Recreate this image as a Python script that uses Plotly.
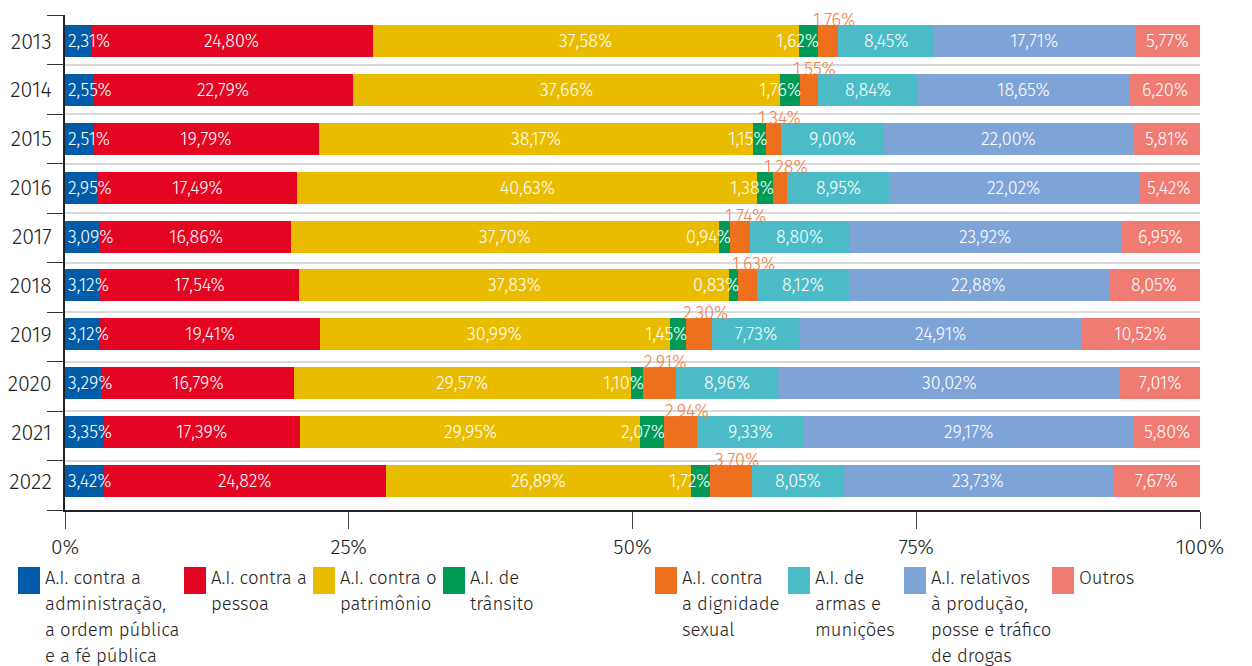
import numpy as np
import plotly.graph_objects as go

# ---------------- data ----------------
years = ["2013", "2014", "2015", "2016", "2017", "2018", "2019", "2020", "2021", "2022"]

series_names = [
    "A.I. contra a\nadministração,\na ordem pública\ne a fé pública",
    "A.I. contra a\npessoa",
    "A.I. contra o\npatrimônio",
    "A.I. de\ntrânsito",
    "A.I. contra\na dignidade\nsexual",
    "A.I. de\narmas e\nmunições",
    "A.I. relativos\nà produção,\nposse e tráfico\nde drogas",
    "Outros",
]

admin = [2.31, 2.55, 2.51, 2.95, 3.09, 3.12, 3.12, 3.29, 3.35, 3.42]
pessoa = [24.80, 22.79, 19.79, 17.49, 16.86, 17.54, 19.41, 16.79, 17.39, 24.82]
patrimonio = [37.58, 37.66, 38.17, 40.63, 37.70, 37.83, 30.99, 29.57, 29.95, 26.89]
transito = [1.62, 1.76, 1.15, 1.38, 0.94, 0.83, 1.45, 1.10, 2.07, 1.72]
dignidade = [1.76, 1.55, 1.34, 1.28, 1.74, 1.63, 2.30, 2.91, 2.94, 3.70]
armas = [8.45, 8.84, 9.00, 8.95, 8.80, 8.12, 7.73, 8.96, 9.33, 8.05]
drogas = [17.71, 18.65, 22.00, 22.02, 23.92, 22.88, 24.91, 30.02, 29.17, 23.73]
outros = [5.77, 6.20, 5.81, 5.42, 6.95, 8.05, 10.52, 7.01, 5.80, 7.67]

x_tickvals = [0, 25, 50, 75, 100]
x_ticktext = ["0%", "25%", "50%", "75%", "100%"]

# ---------------- styles ----------------
colors = ["#005CA8", "#E30521", "#E9BC00", "#009A56", "#EE6F1E", "#4BBCC7", "#7EA3D6", "#F07B73"]
orange_text = "#F07E3E"
FONT = "Fira Sans, Roboto, sans-serif"
W, H = 1252, 666
ML, MR, MT, MB = 65, 52, 15, 156
PLOT_BOTTOM = H - MB

values = [admin, pessoa, patrimonio, transito, dignidade, armas, drogas, outros]
V = np.array(values, dtype=float)
norm = V / V.sum(axis=0) * 100.0
ends = np.cumsum(norm, axis=0)
starts = ends - norm
ypos = list(range(len(years)))


def fmt(v):
    return f"{v:.2f}".replace(".", ",") + "%"


fig = go.Figure()

for k, vals in enumerate(values):
    fig.add_trace(go.Bar(
        y=ypos, x=vals, orientation="h", name=series_names[k].replace("\n", " "),
        marker=dict(color=colors[k], line=dict(width=0)),
        width=0.654, hoverinfo="skip", showlegend=False,
    ))

# invisible trace to hold the boundary grid axis
fig.add_trace(go.Scatter(x=[0], y=[0], yaxis="y2", mode="markers",
                         marker=dict(opacity=0), hoverinfo="skip", showlegend=False))

# bar labels
for k, vals in enumerate(values):
    for i, v in enumerate(vals):
        color = "white"
        yshift = 0
        if k == 0:
            x, xanchor, xshift = starts[k, i], "left", 1
        elif k == 3:
            x, xanchor, xshift = ends[k, i], "right", 3
        elif k == 4:
            x, xanchor, xshift = (starts[k, i] + ends[k, i]) / 2, "center", 6
            yshift = 21
            color = orange_text
        else:
            x, xanchor, xshift = (starts[k, i] + ends[k, i]) / 2, "center", 0
        fig.add_annotation(
            x=x, y=i, xref="x", yref="y", text=fmt(v), showarrow=False,
            xanchor=xanchor, yanchor="middle", xshift=xshift, yshift=yshift,
            font=dict(family=FONT, size=18, color=color, weight=300),
        )

# custom legend
legend_sq_x = [18, 184, 313, 443, 655, 788, 904, 1052]
SQ_W, SQ_TOP, SQ_BOT = 22, 567, 594
LINE0, LINE_STEP = 578, 26
for k, name in enumerate(series_names):
    sx = legend_sq_x[k]
    fig.add_shape(
        type="rect", xref="paper", yref="paper",
        xsizemode="pixel", ysizemode="pixel", xanchor=0, yanchor=0,
        x0=sx - ML, x1=sx - ML + SQ_W,
        y0=PLOT_BOTTOM - SQ_TOP, y1=PLOT_BOTTOM - SQ_BOT,
        fillcolor=colors[k], line=dict(width=0),
    )
    for j, line in enumerate(name.split("\n")):
        fig.add_annotation(
            xref="paper", yref="paper", x=0, y=0,
            xshift=sx + SQ_W + 3 - ML, yshift=-(LINE0 + j * LINE_STEP - PLOT_BOTTOM),
            xanchor="left", yanchor="middle", text=line, showarrow=False,
            font=dict(family=FONT, size=18.5, color="#222222", weight=300),
        )

fig.update_layout(
    barmode="stack", barnorm="percent", bargap=0.3,
    width=W, height=H,
    margin=dict(l=ML, r=MR, t=MT, b=MB, pad=0, autoexpand=False),
    plot_bgcolor="white", paper_bgcolor="white",
    font=dict(family=FONT, color="#222222"),
    showlegend=False,
    xaxis=dict(
        range=[0, 100], tickvals=x_tickvals, ticktext=x_ticktext,
        ticks="outside", ticklen=17, tickwidth=1, tickcolor="#444444",
        showline=True, linecolor="#222222", linewidth=2,
        showgrid=False, zeroline=False, automargin=False,
        tickfont=dict(family=FONT, size=21, color="#222222", weight=300),
        fixedrange=True,
    ),
    yaxis=dict(
        range=[9.593, -0.532], tickvals=ypos, ticktext=years,
        ticks="", showline=True, linecolor="#222222", linewidth=2,
        showgrid=False, zeroline=False, ticklabelstandoff=7, automargin=False,
        tickfont=dict(family=FONT, size=21.5, color="#222222", weight=300),
        fixedrange=True,
    ),
    yaxis2=dict(
        overlaying="y", side="left", anchor="x",
        range=[10, 0], tickvals=list(range(len(years) + 1)),
        ticks="outside", ticklen=17, tickwidth=1, tickcolor="#333333",
        showticklabels=False, showgrid=True, gridcolor="#d9d9d9", gridwidth=2,
        showline=False, zeroline=False, fixedrange=True, automargin=False,
    ),
)

fig.write_html("out.html", config={"displayModeBar": False})
